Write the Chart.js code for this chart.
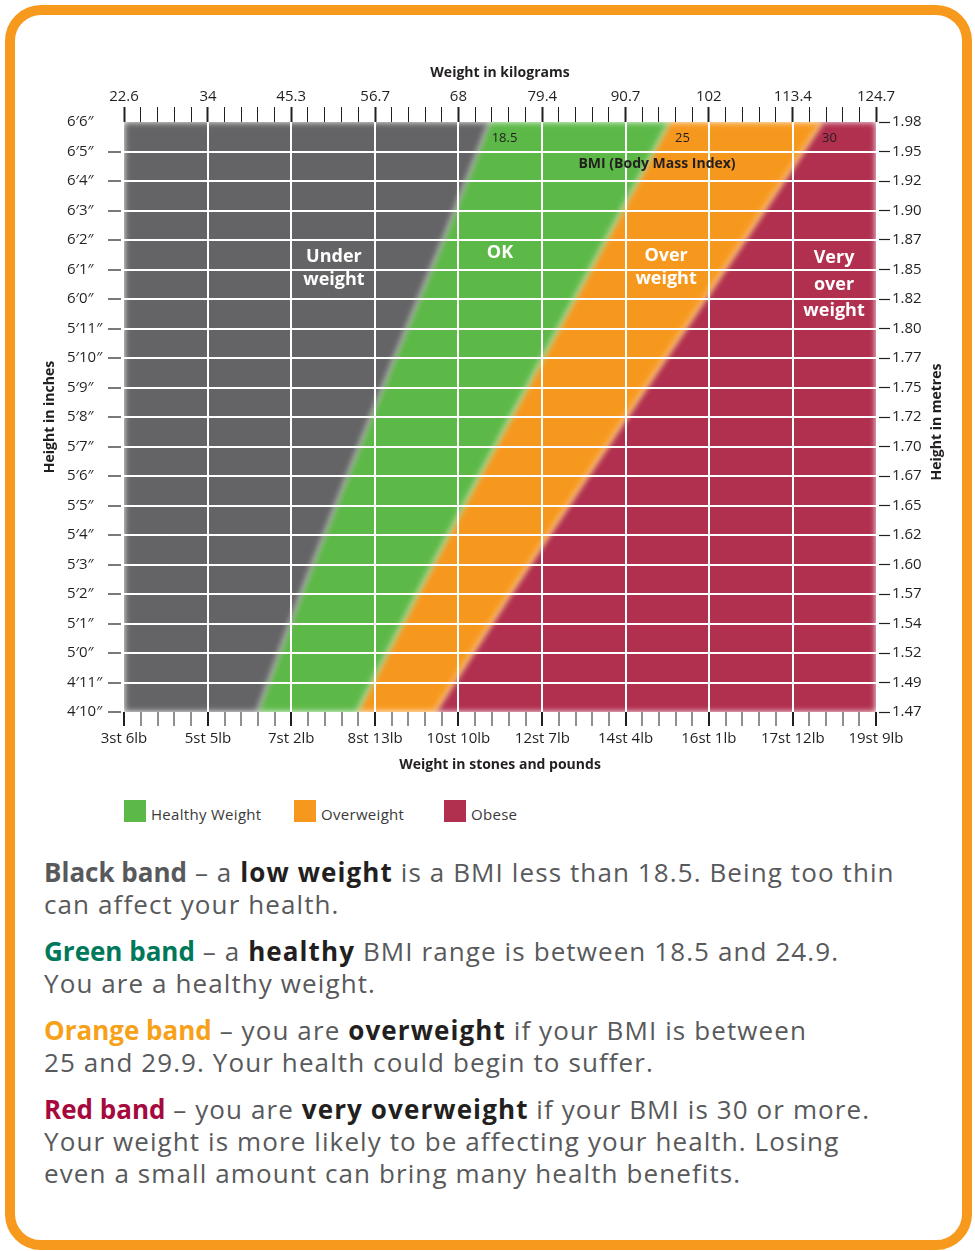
<!DOCTYPE html>
<html>
<head>
<meta charset="utf-8">
<title>BMI height and weight chart</title>
<script src="https://cdn.jsdelivr.net/npm/chart.js@4.4.0/dist/chart.umd.min.js"></script>
<style>
    html, body { margin: 0; padding: 0; background: #fff; }
    body { width: 975px; height: 1251px; position: relative; overflow: hidden; font-family: 'Open Sans', sans-serif; }
    .frame {
        position: absolute; left: 5px; top: 5px; width: 967px; height: 1245px;
        box-sizing: border-box; border: 10px solid #f7991c; border-radius: 36px;
    }
    .chart-wrap { position: absolute; left: 0; top: 0; width: 975px; height: 790px; }
    .legend { position: absolute; left: 124px; top: 800px; display: flex; font-size: 15px; color: #3a3a3a; }
    .legend-item { display: flex; align-items: center; height: 22px; }
    .legend-item span.swatch { width: 22px; height: 22px; margin-right: 5px; }
    .legend-item span.text { position: relative; top: 3px; letter-spacing: 0.3px; }
    .notes { position: absolute; left: 44px; top: 856px; font-size: 26px; line-height: 32px; color: #58595b; letter-spacing: 1.1px; }
    .notes p { margin: 0 0 15px 0; white-space: nowrap; }
    .notes b { color: #231f20; }
    .notes .band { font-weight: bold; letter-spacing: 0; }
    .black { color: #58595b; }
    .green { color: #00785a; }
    .orange { color: #f7a11a; }
    .red { color: #a6093d; }
</style>
</head>
<body>
<div class="frame"></div>
<div class="chart-wrap"><canvas id="bmiChart"></canvas></div>
<div class="legend" id="legend"></div>
<div class="notes">
    <p><span class="band black">Black band</span> – a <b>low weight</b> is a BMI less than 18.5. Being too thin<br>can affect your health.</p>
    <p><span class="band green">Green band</span> – a <b>healthy</b> BMI range is between 18.5 and 24.9.<br>You are a healthy weight.</p>
    <p><span class="band orange">Orange band</span> – you are <b>overweight</b> if your BMI is between<br>25 and 29.9. Your health could begin to suffer.</p>
    <p><span class="band red">Red band</span> – you are <b>very overweight</b> if your BMI is 30 or more.<br>Your weight is more likely to be affecting your health. Losing<br>even a small amount can bring many health benefits.</p>
</div>
<script>
const heightInches = [58, 62, 66, 70, 74, 78];
// weight (kg) of each band edge at those heights
const edgeUnder = [40.7, 46.6, 52.9, 59.3, 65.9, 72.2];    // BMI 18.5
const edgeHealthy = [54.2, 62.4, 70.8, 79.4, 88.0, 96.6];  // BMI 25
const edgeOver = [64.8, 75.0, 85.5, 96.1, 106.8, 117.4];   // BMI 30

const kgTicks = [22.6, 34, 45.3, 56.7, 68, 79.4, 90.7, 102, 113.4, 124.7];
const kgLabels = ['22.6', '34', '45.3', '56.7', '68', '79.4', '90.7', '102', '113.4', '124.7'];
const stoneLabels = ['3st 6lb', '5st 5lb', '7st 2lb', '8st 13lb', '10st 10lb', '12st 7lb',
    '14st 4lb', '16st 1lb', '17st 12lb', '19st 9lb'];
const heightFeet = ['4′10″', '4′11″', '5′0″', '5′1″', '5′2″', '5′3″', '5′4″', '5′5″', '5′6″', '5′7″',
    '5′8″', '5′9″', '5′10″', '5′11″', '6′0″', '6′1″', '6′2″', '6′3″', '6′4″', '6′5″', '6′6″'];
const heightMetres = ['1.47', '1.49', '1.52', '1.54', '1.57', '1.60', '1.62', '1.65', '1.67', '1.70',
    '1.72', '1.75', '1.77', '1.80', '1.82', '1.85', '1.87', '1.90', '1.92', '1.95', '1.98'];

const bandNames = ['Underweight', 'Healthy Weight', 'Overweight', 'Obese'];
const bandColors = ['#646466', '#5db947', '#f7981e', '#b12f4f'];

const DARK = '#231f20';
const CLEAR = 'rgba(0,0,0,0)';

// text written inside the plot, placed in kg / inches
const plotNotes = [
    { lines: ['Under', 'weight'], kg: 51.1, inch: 73.03, font: 'bold 18px "Open Sans"', color: '#fff', gap: 23 },
    { lines: ['OK'], kg: 73.65, inch: 73.56, font: 'bold 18px "Open Sans"', color: '#fff', gap: 23 },
    { lines: ['Over', 'weight'], kg: 96.2, inch: 73.07, font: 'bold 18px "Open Sans"', color: '#fff', gap: 23 },
    { lines: ['Very', 'over', 'weight'], kg: 119.0, inch: 72.49, font: 'bold 18px "Open Sans"', color: '#fff', gap: 26.5 },
    { lines: ['18.5'], kg: 74.26, inch: 77.44, font: '13px "Open Sans"', color: DARK, gap: 0 },
    { lines: ['25'], kg: 98.43, inch: 77.44, font: '13px "Open Sans"', color: DARK, gap: 0 },
    { lines: ['30'], kg: 118.39, inch: 77.44, font: '13px "Open Sans"', color: DARK, gap: 0 },
    { lines: ['BMI (Body Mass Index)'], kg: 94.97, inch: 76.58, font: 'bold 14px "Open Sans"', color: DARK, gap: 0 }
];

// major ticks at the labelled weights, four minor ticks between each pair
const weightTicks = [];
kgTicks.forEach((v, i) => {
    weightTicks.push(v);
    if (i < kgTicks.length - 1) {
        for (let k = 1; k < 5; k++) weightTicks.push(v + (kgTicks[i + 1] - v) * k / 5);
    }
});
const lastTick = weightTicks.length - 1;

function edgePoints(kgs) {
    return kgs.map((kg, i) => ({ x: kg, y: heightInches[i] }));
}

function setWeightTicks(scale) {
    scale.ticks = weightTicks.map(value => ({ value }));
}

Chart.defaults.font.family = "'Open Sans', sans-serif";
Chart.defaults.font.size = 15;
Chart.defaults.color = DARK;

// soft edges on the coloured bands, like the printed chart
const softBands = {
    id: 'softBands',
    beforeDatasetsDraw(chart) {
        chart.ctx.save();
        chart.ctx.filter = 'blur(3px)';
    },
    afterDatasetsDraw(chart) {
        chart.ctx.restore();
    }
};

const plotText = {
    id: 'plotText',
    afterDraw(chart) {
        const { ctx, scales } = chart;
        ctx.save();
        ctx.textAlign = 'center';
        ctx.textBaseline = 'middle';
        plotNotes.forEach(note => {
            const cx = scales.x.getPixelForValue(note.kg);
            const cy = scales.y.getPixelForValue(note.inch);
            ctx.font = note.font;
            ctx.fillStyle = note.color;
            const start = cy - (note.lines.length - 1) * note.gap / 2;
            note.lines.forEach((line, i) => ctx.fillText(line, cx, start + i * note.gap));
        });

        // right hand axis title reads bottom to top, like the left one
        const area = chart.chartArea;
        ctx.translate(scales.y2.right - 38, (area.top + area.bottom) / 2 + 5);
        ctx.rotate(-Math.PI / 2);
        ctx.font = 'bold 14px "Open Sans"';
        ctx.fillStyle = DARK;
        ctx.fillText('Height in metres', 0, 0);
        ctx.restore();
    }
};

const bandBase = { borderWidth: 0, pointRadius: 0, pointHoverRadius: 0, tension: 0, clip: 8 };
const titleFont = { size: 14, weight: 'bold' };

new Chart(document.getElementById('bmiChart'), {
    type: 'line',
    data: {
        datasets: [
            { ...bandBase, label: bandNames[0], data: edgePoints(edgeUnder), backgroundColor: bandColors[0], fill: { value: kgTicks[0] } },
            { ...bandBase, label: bandNames[1], data: edgePoints(edgeHealthy), backgroundColor: bandColors[1], fill: '-1' },
            { ...bandBase, label: bandNames[2], data: edgePoints(edgeOver), backgroundColor: bandColors[2], fill: '-1' },
            { ...bandBase, label: bandNames[3], data: edgePoints(edgeOver), backgroundColor: bandColors[3], fill: { value: kgTicks[kgTicks.length - 1] } }
        ]
    },
    options: {
        indexAxis: 'y',
        responsive: true,
        maintainAspectRatio: false,
        animation: false,
        events: [],
        // left padding lines the height labels up on their left edge
        layout: { padding: { left: 67, right: 0, top: 0, bottom: 0 } },
        plugins: {
            legend: { display: false },
            tooltip: { enabled: false }
        },
        scales: {
            x: {
                type: 'linear', position: 'bottom',
                min: kgTicks[0], max: kgTicks[kgTicks.length - 1],
                afterBuildTicks: setWeightTicks,
                afterFit: s => { s.height = 78; },
                border: { display: false },
                grid: {
                    z: 1, lineWidth: 2, tickLength: 14, tickColor: DARK,
                    color: c => (c.index % 5 === 0 && c.index > 0 && c.index < lastTick) ? '#fff' : CLEAR,
                    tickWidth: c => c.index % 5 === 0 ? 2 : 1
                },
                ticks: {
                    autoSkip: false, maxRotation: 0, padding: 4,
                    callback: (v, i) => i % 5 === 0 ? stoneLabels[i / 5] : ''
                },
                title: {
                    display: true, text: 'Weight in stones and pounds',
                    font: titleFont, padding: { top: 0, bottom: 16.6 }
                }
            },
            x2: {
                type: 'linear', position: 'top',
                min: kgTicks[0], max: kgTicks[kgTicks.length - 1],
                afterBuildTicks: setWeightTicks,
                afterFit: s => { s.height = 122; },
                border: { display: false },
                grid: {
                    z: 1, drawOnChartArea: false, tickLength: 15, tickColor: DARK,
                    tickWidth: c => c.index % 5 === 0 ? 2 : 1
                },
                ticks: {
                    autoSkip: false, maxRotation: 0, padding: 1,
                    callback: (v, i) => i % 5 === 0 ? kgLabels[i / 5] : ''
                },
                title: {
                    display: true, text: 'Weight in kilograms',
                    font: titleFont, padding: { top: 65, bottom: 0 }
                }
            },
            y: {
                type: 'linear', position: 'left', min: 58, max: 78,
                afterFit: s => { s.width = 57; },
                border: { display: false },
                grid: {
                    z: 1, lineWidth: 2, tickLength: 16, tickWidth: 1.2, tickBorderDash: [13, 3],
                    color: c => (c.index > 0 && c.index < heightFeet.length - 1) ? '#fff' : CLEAR,
                    tickColor: c => c.index === heightFeet.length - 1 ? CLEAR : DARK
                },
                ticks: {
                    stepSize: 1, autoSkip: false, padding: 5, crossAlign: 'far',
                    callback: (v, i) => heightFeet[i]
                },
                title: {
                    display: true, text: 'Height in inches',
                    font: titleFont, padding: { top: -25.4, bottom: 0 }
                }
            },
            y2: {
                type: 'linear', position: 'right', min: 58, max: 78,
                afterFit: s => { s.width = 99; },
                border: { display: false },
                grid: {
                    z: 1, drawOnChartArea: false, tickLength: 14, tickWidth: 1.2, tickColor: DARK,
                    tickBorderDash: [11, 3], tickBorderDashOffset: 11
                },
                ticks: {
                    stepSize: 1, autoSkip: false, padding: 2,
                    callback: (v, i) => heightMetres[i]
                }
            }
        }
    },
    plugins: [softBands, plotText]
});

// legend for the three coloured bands (the grey band is explained in the notes)
const legendWidths = [170, 150, 120];
const legend = document.getElementById('legend');
bandNames.slice(1).forEach((name, i) => {
    const item = document.createElement('div');
    item.className = 'legend-item';
    item.style.width = legendWidths[i] + 'px';
    item.innerHTML = `<span class="swatch" style="background:${bandColors[i + 1]}"></span><span class="text">${name}</span>`;
    legend.appendChild(item);
});
</script>
</body>
</html>
